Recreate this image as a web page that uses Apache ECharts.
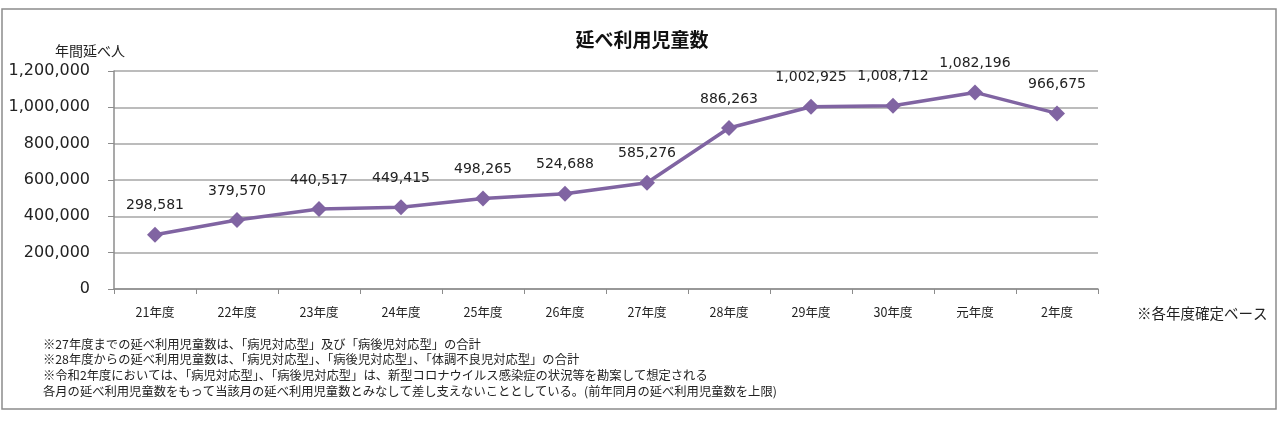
<!DOCTYPE html>
<html><head><meta charset="utf-8">
<script src="https://cdn.jsdelivr.net/npm/echarts@6/dist/echarts.min.js"></script>
<style>html,body{margin:0;padding:0;background:#fff}#c{width:1280px;height:421px}</style>
</head><body><div id="c"></div>
<script>
const title = '延べ利用児童数';
const yAxisName = '年間延べ人';
const categories = ['21年度','22年度','23年度','24年度','25年度','26年度','27年度','28年度','29年度','30年度','元年度','2年度'];
const values = [298581, 379570, 440517, 449415, 498265, 524688, 585276, 886263, 1002925, 1008712, 1082196, 966675];
const baseNote = '※各年度確定ベース';
const footnotes = [
  '※27年度までの延べ利用児童数は、「病児対応型」及び「病後児対応型」の合計',
  '※28年度からの延べ利用児童数は、「病児対応型」、「病後児対応型」、「体調不良児対応型」の合計',
  '※令和2年度においては、「病児対応型」、「病後児対応型」は、新型コロナウイルス感染症の状況等を勘案して想定される',
  '各月の延べ利用児童数をもって当該月の延べ利用児童数とみなして差し支えないこととしている。(前年同月の延べ利用児童数を上限)'
];
const cjk = '"Noto Sans CJK JP", sans-serif';
const num = '"DejaVu Sans", sans-serif';
const fmt = v => v.toLocaleString('en-US');

const chart = echarts.init(document.getElementById('c'), null, {renderer:'canvas'});
const graphics = [
  {type:'rect', shape:{x:2, y:9, width:1274, height:400}, style:{fill:'none', stroke:'#8c8c8c', lineWidth:1.5}, z:-1},
  {type:'text', x:642, y:40, style:{text:title, font:'bold 19px '+cjk, fill:'#111', textAlign:'center', textVerticalAlign:'middle'}},
  {type:'text', x:90, y:51, style:{text:yAxisName, font:'14px '+cjk, fill:'#222', textAlign:'center', textVerticalAlign:'middle'}},
  {type:'text', x:1137, y:313, style:{text:baseNote, font:'14.5px '+cjk, fill:'#222', textAlign:'left', textVerticalAlign:'middle'}}
];
footnotes.forEach((t,i)=>{
  graphics.push({type:'text', x:43, y:344+i*15.7, style:{text:t, font:'12.3px '+cjk, fill:'#222', textAlign:'left', textVerticalAlign:'middle'}});
});

chart.setOption({
  animation:false,
  grid:{left:114, top:71, width:984, height:218, containLabel:false},
  xAxis:{
    type:'category', data:categories, boundaryGap:true,
    axisLine:{lineStyle:{color:'#8c8c8c', width:1.5}},
    axisTick:{show:true, length:5, lineStyle:{color:'#8c8c8c'}},
    axisLabel:{color:'#222', fontFamily:cjk, fontSize:12.5, margin:17}
  },
  yAxis:{
    type:'value', min:0, max:1200000, interval:200000,
    axisLine:{show:true, lineStyle:{color:'#8c8c8c', width:1.5}},
    axisTick:{show:true, length:6, lineStyle:{color:'#8c8c8c'}},
    splitLine:{lineStyle:{color:'#a6a6a6', width:1.5}},
    axisLabel:{color:'#222', fontFamily:num, fontSize:16, margin:24, formatter:v=>fmt(v)}
  },
  series:[{
    type:'line', data:values,
    symbol:'diamond', symbolSize:16,
    lineStyle:{color:'#8064a2', width:3.5},
    itemStyle:{color:'#8064a2'},
    label:{show:true, position:'top', distance:14, color:'#222', fontFamily:num, fontSize:14, formatter:p=>fmt(p.value)}
  }],
  graphic:graphics
});
</script></body></html>
